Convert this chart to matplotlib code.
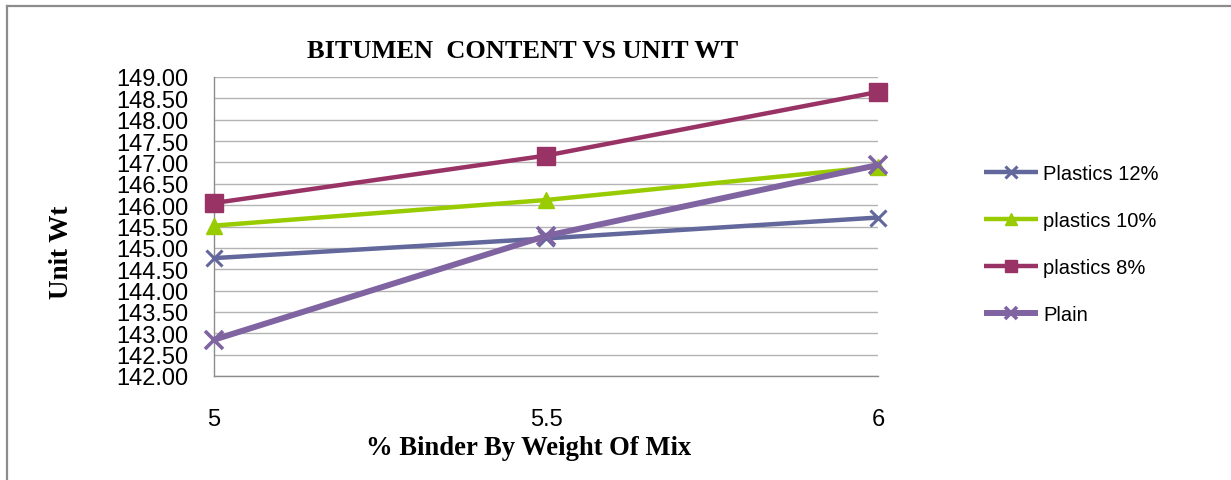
import matplotlib
matplotlib.use("Agg")
import matplotlib.pyplot as plt
from matplotlib.lines import Line2D

# ---- data ----
categories = ["5", "5.5", "6"]
plastics_12 = [144.76, 145.22, 145.71]
plastics_10 = [145.52, 146.12, 146.90]
plastics_8 = [146.05, 147.16, 148.65]
plain = [142.85, 145.28, 146.94]
series_names = ["Plastics 12%", "plastics 10%", "plastics 8%", "Plain"]
y_ticks = [142.0 + 0.5 * i for i in range(15)]

W, H = 1231, 481
fig = plt.figure(figsize=(W / 100, H / 100), dpi=100)
ax = fig.add_axes([214 / W, 1 - 377 / H, (878 - 214) / W, (377 - 78) / H])

x = list(range(len(categories)))

styles = [
    (plastics_12, "#62679C", "x", 12, 2.2, 3.2),
    (plastics_10, "#99CC00", "^", 12, 1.0, 3.2),
    (plastics_8, "#993366", "s", 12.5, 1.0, 3.2),
    (plain, "#8064A2", "x", 13, 2.6, 4.3),
]
handles = []
for (vals, col, mk, ms, mew, lw), name in zip(styles, series_names):
    ln, = ax.plot(x, vals, color=col, lw=lw, marker=mk, ms=ms, mew=mew,
                  mec=col, mfc=col, clip_on=False, zorder=3, label=name,
                  solid_capstyle="butt")
    handles.append(ln)

ax.set_xlim(0, 2)
ax.set_ylim(142, 149)
ax.set_yticks(y_ticks)
ax.set_yticklabels([f"{v:.2f}" for v in y_ticks])
ax.set_xticks(x)
ax.set_xticklabels(categories)

for lab in ax.get_yticklabels() + ax.get_xticklabels():
    lab.set_fontfamily("Liberation Sans")
    lab.set_fontsize(17)
ax.tick_params(axis="y", length=0, pad=18.5, colors="black")
ax.tick_params(axis="x", length=0, pad=23, colors="black")

ax.grid(axis="y", color="#B3B3B3", lw=1.0)
ax.set_axisbelow(True)
for s in ["top", "right"]:
    ax.spines[s].set_visible(False)
for s in ["left", "bottom"]:
    ax.spines[s].set_color("#8C8C8C")
    ax.spines[s].set_linewidth(1.0)

fig.text(523 / W, 1 - 52 / H, "BITUMEN  CONTENT VS UNIT WT", ha="center",
         va="center", family="Liberation Serif", weight="bold", size=19)
fig.text(529 / W, 1 - 449 / H, "% Binder By Weight Of Mix", ha="center",
         va="center", family="Liberation Serif", weight="bold", size=19.2)
fig.text(62 / W, 1 - 252 / H, "Unit Wt", ha="center", va="center",
         rotation=90, family="Liberation Serif", weight="bold", size=19.5)

leg = fig.legend(handles=handles, labels=series_names, loc="center left",
                 bbox_to_anchor=(984 / W, 1 - 245 / H), frameon=False,
                 borderpad=0, borderaxespad=0, handlelength=2.7,
                 handletextpad=0.25, labelspacing=1.4, markerscale=0.7,
                 prop=dict(family="Liberation Sans", size=14.5))

# outer frame of the chart
fig.add_artist(Line2D([7 / W, 7 / W], [0, 1 - 7 / H], color="#8C8C8C", lw=1.6,
                      transform=fig.transFigure))
fig.add_artist(Line2D([7 / W, 1], [1 - 7 / H, 1 - 7 / H], color="#8C8C8C",
                      lw=1.6, transform=fig.transFigure))

fig.savefig("out.png", dpi=100)
